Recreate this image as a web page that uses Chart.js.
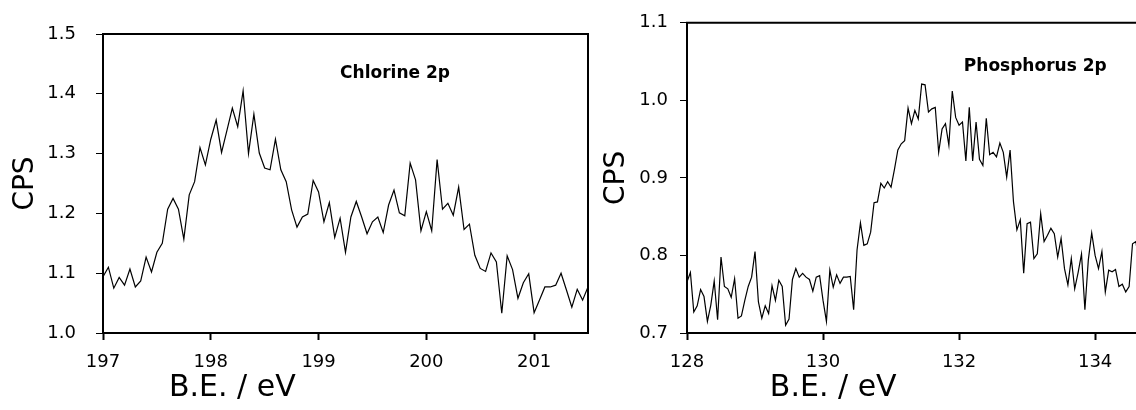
<!DOCTYPE html>
<html>
<head>
<meta charset="utf-8">
<script src="https://cdn.jsdelivr.net/npm/chart.js@4.4.1/dist/chart.umd.min.js"></script>
<style>
  html, body { margin: 0; padding: 0; background: #fff; overflow: hidden; width: 1136px; height: 410px; }
  #c1 { position: absolute; left: 0; top: 0; }
  #c2 { position: absolute; left: 600px; top: 0; }
</style>
</head>
<body>
<canvas id="c1" width="600" height="410"></canvas>
<canvas id="c2" width="560" height="410"></canvas>
<script>
// ---------- Chlorine 2p ----------
const clEnergy = [
  197.00,197.05,197.10,197.15,197.20,197.25,197.30,197.35,197.40,197.45,
  197.50,197.55,197.60,197.65,197.70,197.75,197.80,197.85,197.90,197.95,
  198.00,198.05,198.10,198.15,198.20,198.25,198.30,198.35,198.40,198.45,
  198.50,198.55,198.60,198.65,198.70,198.75,198.80,198.85,198.90,198.95,
  199.00,199.05,199.10,199.15,199.20,199.25,199.30,199.35,199.40,199.45,
  199.50,199.55,199.60,199.65,199.70,199.75,199.80,199.85,199.90,199.95,
  200.00,200.05,200.10,200.15,200.20,200.25,200.30,200.35,200.40,200.45,
  200.50,200.55,200.60,200.65,200.70,200.75,200.80,200.85,200.90,200.95,
  201.00,201.05,201.10,201.15,201.20,201.25,201.30,201.35,201.40,201.45,
  201.50
];
const clCps = [
  1.094,1.110,1.075,1.093,1.080,1.107,1.077,1.087,1.127,1.102,
  1.135,1.150,1.207,1.225,1.207,1.157,1.231,1.253,1.310,1.281,
  1.324,1.356,1.302,1.339,1.376,1.345,1.405,1.300,1.366,1.301,
  1.276,1.273,1.324,1.273,1.253,1.206,1.177,1.194,1.199,1.255,
  1.236,1.186,1.218,1.160,1.192,1.135,1.194,1.220,1.194,1.166,
  1.186,1.194,1.168,1.214,1.239,1.201,1.196,1.284,1.256,1.171,
  1.203,1.171,1.290,1.207,1.217,1.197,1.244,1.173,1.182,1.130,
  1.108,1.103,1.134,1.119,1.033,1.129,1.106,1.058,1.084,1.099,
  1.034,1.055,1.077,1.077,1.080,1.100,1.072,1.043,1.073,1.055,
  1.077
];
const clXTicks = [197, 198, 199, 200, 201];
const clYTicks = [1.0, 1.1, 1.2, 1.3, 1.4, 1.5];

// ---------- Phosphorus 2p ----------
const pEnergy = [
  128.00,128.05,128.10,128.15,128.20,128.25,128.30,128.35,128.40,128.45,
  128.50,128.55,128.60,128.65,128.70,128.75,128.80,128.85,128.90,128.95,
  129.00,129.05,129.10,129.15,129.20,129.25,129.30,129.35,129.40,129.45,
  129.50,129.55,129.60,129.65,129.70,129.75,129.80,129.85,129.90,129.95,
  130.00,130.05,130.10,130.15,130.20,130.25,130.30,130.35,130.40,130.45,
  130.50,130.55,130.60,130.65,130.70,130.75,130.80,130.85,130.90,130.95,
  131.00,131.05,131.10,131.15,131.20,131.25,131.30,131.35,131.40,131.45,
  131.50,131.55,131.60,131.65,131.70,131.75,131.80,131.85,131.90,131.95,
  132.00,132.05,132.10,132.15,132.20,132.25,132.30,132.35,132.40,132.45,
  132.50,132.55,132.60,132.65,132.70,132.75,132.80,132.85,132.90,132.95,
  133.00,133.05,133.10,133.15,133.20,133.25,133.30,133.35,133.40,133.45,
  133.50,133.55,133.60,133.65,133.70,133.75,133.80,133.85,133.90,133.95,
  134.00,134.05,134.10,134.15,134.20,134.25,134.30,134.35,134.40,134.45,
  134.50,134.55,134.60,134.65
];
const pCps = [
  0.766,0.778,0.727,0.735,0.756,0.747,0.715,0.736,0.767,0.717,
  0.798,0.760,0.757,0.746,0.770,0.719,0.722,0.742,0.760,0.772,
  0.805,0.740,0.719,0.735,0.725,0.761,0.742,0.768,0.760,0.710,
  0.718,0.769,0.783,0.772,0.777,0.772,0.769,0.754,0.772,0.774,
  0.742,0.715,0.781,0.759,0.775,0.764,0.772,0.772,0.773,0.730,
  0.807,0.842,0.813,0.815,0.830,0.868,0.869,0.893,0.887,0.895,
  0.888,0.911,0.936,0.944,0.948,0.990,0.970,0.987,0.976,1.021,
  1.020,0.985,0.989,0.991,0.933,0.963,0.970,0.942,1.012,0.978,
  0.968,0.972,0.922,0.991,0.922,0.972,0.924,0.916,0.977,0.930,
  0.933,0.927,0.945,0.933,0.901,0.936,0.869,0.833,0.846,0.777,
  0.841,0.843,0.796,0.802,0.854,0.818,0.826,0.835,0.828,0.798,
  0.822,0.783,0.762,0.796,0.757,0.778,0.802,0.730,0.794,0.829,
  0.800,0.783,0.805,0.753,0.781,0.779,0.782,0.760,0.763,0.753,
  0.760,0.815,0.818,0.785
];
const pXTicks = [128, 130, 132, 134];
const pYTicks = [0.7, 0.8, 0.9, 1.0, 1.1];

Chart.defaults.font.family = '"DejaVu Sans", Verdana, sans-serif';
Chart.defaults.color = '#000';

const panelPlugin = {
  id: 'panelDecor',
  afterDraw(chart, args, o) {
    const { ctx, chartArea, scales } = chart;
    ctx.save();
    // close the frame (top + right)
    ctx.strokeStyle = '#000';
    ctx.lineWidth = 2;
    ctx.beginPath();
    ctx.moveTo(chartArea.left - 1, chartArea.top);
    ctx.lineTo(chartArea.right, chartArea.top);
    ctx.lineTo(chartArea.right, chartArea.bottom + 1);
    ctx.stroke();
    // panel label inside plot
    ctx.fillStyle = '#000';
    ctx.font = 'bold 17px "DejaVu Sans", Verdana, sans-serif';
    ctx.textAlign = 'left';
    ctx.textBaseline = 'middle';
    ctx.fillText(o.label, scales.x.getPixelForValue(o.labelX), scales.y.getPixelForValue(o.labelY));
    // x axis title
    ctx.font = '30px "DejaVu Sans", Verdana, sans-serif';
    ctx.textAlign = 'center';
    ctx.fillText(o.xTitle, scales.x.getPixelForValue(o.xTitleAt), o.xTitleY);
    ctx.restore();
  }
};

function makeChart(canvasId, xs, ys, xTicks, yTicks, cfg) {
  const pts = xs.map((x, i) => ({ x: x, y: ys[i] }));
  return new Chart(document.getElementById(canvasId), {
    type: 'line',
    data: {
      datasets: [{
        data: pts,
        borderColor: '#000',
        borderWidth: 1.2,
        pointRadius: 0,
        tension: 0,
        fill: false
      }]
    },
    options: {
      responsive: false,
      animation: false,
      events: [],
      layout: { padding: cfg.padding },
      plugins: {
        legend: { display: false },
        tooltip: { enabled: false },
        panelDecor: cfg.decor
      },
      scales: {
        x: {
          type: 'linear',
          min: cfg.xMin,
          max: cfg.xMax,
          afterBuildTicks: s => { s.ticks = xTicks.map(v => ({ value: v })); },
          afterFit: s => { s.height = cfg.xHeight; },
          ticks: {
            font: { size: 18 },
            color: '#000',
            padding: 12,
            maxRotation: 0,
            callback: v => String(v)
          },
          grid: {
            display: true,
            drawOnChartArea: false,
            drawTicks: true,
            tickLength: 7,
            tickColor: '#000',
            tickWidth: 2
          },
          border: { display: true, color: '#000', width: 2 }
        },
        y: {
          type: 'linear',
          min: cfg.yMin,
          max: cfg.yMax,
          afterBuildTicks: s => { s.ticks = yTicks.map(v => ({ value: v })); },
          afterFit: s => { s.width = cfg.yWidth; },
          ticks: {
            font: { size: 18 },
            color: '#000',
            padding: cfg.yTickPad,
            callback: v => Number(v).toFixed(1)
          },
          grid: {
            display: true,
            drawOnChartArea: false,
            drawTicks: true,
            tickLength: 7,
            tickColor: '#000',
            tickWidth: 1
          },
          border: { display: true, color: '#000', width: 2 },
          title: {
            display: true,
            text: 'CPS',
            color: '#000',
            font: { size: 28, lineHeight: 1 },
            padding: { top: cfg.cpsPad, bottom: 0 }
          }
        }
      }
    },
    plugins: [panelPlugin]
  });
}

makeChart('c1', clEnergy, clCps, clXTicks, clYTicks, {
  padding: { left: 0, right: 12, top: 34, bottom: 0 },
  xMin: 197, xMax: 201.5, yMin: 1.0, yMax: 1.5,
  xHeight: 77, yWidth: 103, yTickPad: 20, cpsPad: 12,
  decor: { label: 'Chlorine 2p', labelX: 199.2, labelY: 1.433,
           xTitle: 'B.E. / eV', xTitleAt: 198.2, xTitleY: 388 }
});

makeChart('c2', pEnergy, pCps, pXTicks, pYTicks, {
  padding: { left: 0, right: 20, top: 22, bottom: 0 },
  xMin: 128, xMax: 134.66, yMin: 0.7, yMax: 1.1,
  xHeight: 77, yWidth: 87, yTickPad: 12, cpsPad: 3,
  decor: { label: 'Phosphorus 2p', labelX: 132.07, labelY: 1.043,
           xTitle: 'B.E. / eV', xTitleAt: 130.15, xTitleY: 388 }
});
</script>
</body>
</html>
